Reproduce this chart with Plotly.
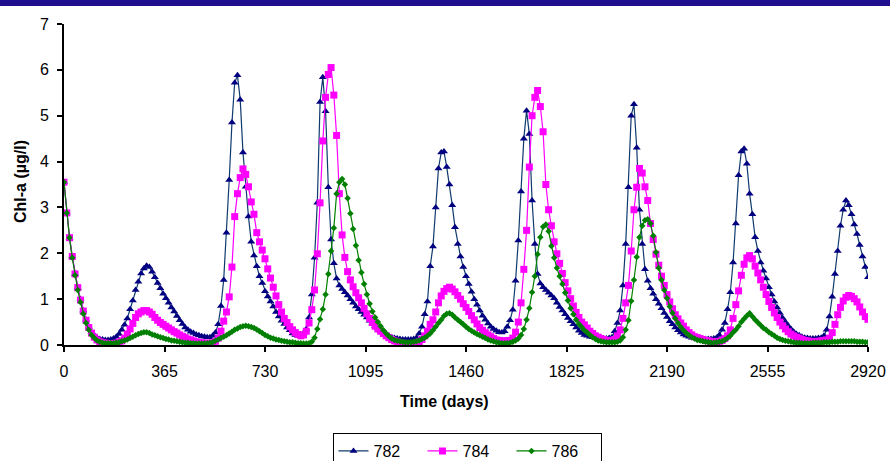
import plotly.graph_objects as go

# Time axis (days), sampled every 10 days
days = list(range(0, 2921, 10))

tick_vals = [0, 365, 730, 1095, 1460, 1825, 2190, 2555, 2920]
tick_text = ["0", "365", "730", "1095", "1460", "1825", "2190", "2555", "2920"]

series_names = ["782", "784", "786"]

chl_782 = [
    3.55, 2.88, 2.34, 1.93, 1.55, 1.25, 1.00, 0.75, 0.55, 0.40,
    0.28, 0.21, 0.16, 0.13, 0.12, 0.11, 0.11, 0.12, 0.14, 0.18,
    0.24, 0.33, 0.44, 0.58, 0.78, 0.97, 1.20, 1.38, 1.56, 1.67,
    1.73, 1.70, 1.60, 1.48, 1.35, 1.24, 1.12, 1.02, 0.92, 0.82,
    0.73, 0.63, 0.54, 0.46, 0.38, 0.33, 0.29, 0.26, 0.23, 0.21,
    0.19, 0.18, 0.17, 0.17, 0.20, 0.27, 0.45, 0.85, 1.42, 2.45,
    3.60, 4.85, 5.72, 5.88, 5.35, 4.20, 3.45, 2.80, 2.25, 1.95,
    1.72, 1.50, 1.35, 1.17, 1.06, 0.95, 0.84, 0.72, 0.62, 0.53,
    0.46, 0.38, 0.32, 0.25, 0.22, 0.20, 0.20, 0.25, 0.35, 0.60,
    1.10, 1.90, 3.10, 5.30, 5.84, 5.10, 3.44, 2.30, 1.78, 1.45,
    1.30, 1.22, 1.15, 1.08, 1.00, 0.92, 0.84, 0.78, 0.72, 0.66,
    0.60, 0.53, 0.47, 0.41, 0.36, 0.31, 0.26, 0.22, 0.19, 0.17,
    0.15, 0.14, 0.13, 0.12, 0.12, 0.12, 0.12, 0.13, 0.15, 0.25,
    0.40, 0.67, 0.95, 1.72, 2.15, 3.00, 3.85, 4.20, 4.22, 3.88,
    3.50, 3.05, 2.57, 2.20, 1.93, 1.70, 1.50, 1.33, 1.16, 1.00,
    0.88, 0.75, 0.64, 0.55, 0.47, 0.40, 0.35, 0.31, 0.28, 0.27,
    0.30, 0.40, 0.54, 0.77, 1.40, 2.28, 3.35, 4.50, 5.11, 4.60,
    3.15, 2.20, 1.55, 1.34, 1.26, 1.20, 1.14, 1.08, 1.02, 0.92,
    0.83, 0.75, 0.67, 0.59, 0.52, 0.45, 0.38, 0.31, 0.26, 0.22,
    0.20, 0.18, 0.17, 0.16, 0.15, 0.14, 0.14, 0.14, 0.15, 0.17,
    0.30, 0.48, 0.75, 1.30, 2.20, 3.44, 5.00, 5.25, 4.30, 2.95,
    2.20, 1.65, 1.40, 1.24, 1.12, 1.00, 0.90, 0.80, 0.70, 0.61,
    0.52, 0.45, 0.38, 0.32, 0.27, 0.23, 0.20, 0.18, 0.16, 0.15,
    0.14, 0.14, 0.13, 0.13, 0.13, 0.13, 0.14, 0.16, 0.22, 0.33,
    0.48, 0.78, 1.15, 1.80, 2.65, 3.70, 4.22, 4.28, 3.95, 3.30,
    2.85, 2.35, 2.05, 1.80, 1.62, 1.45, 1.26, 1.10, 0.95, 0.82,
    0.70, 0.59, 0.50, 0.42, 0.35, 0.29, 0.24, 0.21, 0.18, 0.16,
    0.15, 0.14, 0.14, 0.14, 0.15, 0.16, 0.20, 0.33, 0.62, 1.05,
    1.55, 2.05, 2.60, 2.95, 3.15, 3.05, 2.85, 2.63, 2.42, 2.18,
    1.93, 1.70, 1.48,
]

chl_784 = [
    3.55, 2.88, 2.34, 1.93, 1.55, 1.25, 0.98, 0.74, 0.54, 0.38,
    0.26, 0.17, 0.11, 0.07, 0.05, 0.04, 0.03, 0.03, 0.03, 0.04,
    0.06, 0.09, 0.15, 0.24, 0.35, 0.47, 0.60, 0.68, 0.72, 0.75,
    0.75, 0.72, 0.67, 0.60, 0.54, 0.49, 0.45, 0.41, 0.37, 0.33,
    0.29, 0.26, 0.22, 0.19, 0.16, 0.13, 0.11, 0.09, 0.07, 0.06,
    0.05, 0.04, 0.04, 0.04, 0.05, 0.08, 0.15, 0.30, 0.52, 0.72,
    1.05, 1.70, 2.80, 3.30, 3.65, 3.84, 3.72, 3.45, 3.12, 2.85,
    2.45, 2.25, 2.07, 1.88, 1.66, 1.46, 1.26, 1.07, 0.88, 0.72,
    0.58, 0.49, 0.40, 0.33, 0.27, 0.23, 0.20, 0.22, 0.30, 0.48,
    0.77, 1.20, 1.99, 3.10, 4.45, 5.40, 5.90, 6.05, 5.45, 4.57,
    3.30, 2.40, 1.91, 1.60, 1.42, 1.27, 1.14, 1.03, 0.92, 0.80,
    0.68, 0.58, 0.49, 0.41, 0.35, 0.30, 0.25, 0.20, 0.16, 0.12,
    0.09, 0.07, 0.05, 0.04, 0.03, 0.03, 0.03, 0.03, 0.04, 0.07,
    0.12, 0.20, 0.30, 0.45, 0.55, 0.72, 0.92, 1.07, 1.17, 1.23,
    1.26, 1.22, 1.16, 1.08, 1.00, 0.90, 0.82, 0.73, 0.64, 0.55,
    0.46, 0.38, 0.32, 0.27, 0.22, 0.18, 0.14, 0.11, 0.10, 0.09,
    0.09, 0.09, 0.10, 0.15, 0.28, 0.50, 0.92, 1.65, 2.50, 3.88,
    5.00, 5.40, 5.55, 5.20, 4.65, 3.50, 2.95, 2.60, 2.25, 1.99,
    1.78, 1.56, 1.36, 1.18, 1.01, 0.85, 0.71, 0.60, 0.50, 0.44,
    0.37, 0.30, 0.25, 0.20, 0.17, 0.14, 0.12, 0.10, 0.10, 0.10,
    0.12, 0.20, 0.33, 0.58, 0.92, 1.30, 2.05, 2.95, 3.44, 3.85,
    3.75, 3.45, 3.15, 2.65, 2.30, 1.98, 1.74, 1.50, 1.30, 1.10,
    0.94, 0.79, 0.66, 0.57, 0.48, 0.41, 0.33, 0.27, 0.22, 0.18,
    0.16, 0.14, 0.12, 0.10, 0.09, 0.08, 0.07, 0.07, 0.08, 0.10,
    0.14, 0.20, 0.33, 0.58, 0.88, 1.18, 1.52, 1.76, 1.90, 1.95,
    1.88, 1.72, 1.57, 1.42, 1.26, 1.10, 0.95, 0.82, 0.70, 0.60,
    0.50, 0.42, 0.35, 0.29, 0.24, 0.20, 0.17, 0.15, 0.12, 0.10,
    0.09, 0.08, 0.07, 0.07, 0.08, 0.09, 0.10, 0.11, 0.15, 0.27,
    0.45, 0.66, 0.82, 0.96, 1.04, 1.08, 1.06, 1.01, 0.94, 0.83,
    0.72, 0.62, 0.56,
]

chl_786 = [
    3.55, 2.88, 2.34, 1.90, 1.52, 1.20, 0.93, 0.68, 0.48, 0.33,
    0.22, 0.15, 0.10, 0.07, 0.05, 0.04, 0.04, 0.04, 0.04, 0.05,
    0.06, 0.08, 0.10, 0.12, 0.15, 0.18, 0.21, 0.24, 0.26, 0.28,
    0.28, 0.26, 0.23, 0.21, 0.19, 0.17, 0.15, 0.13, 0.12, 0.10,
    0.09, 0.08, 0.07, 0.06, 0.05, 0.05, 0.04, 0.04, 0.03, 0.03,
    0.03, 0.03, 0.04, 0.05, 0.06, 0.09, 0.12, 0.15, 0.18, 0.21,
    0.25, 0.29, 0.33, 0.36, 0.39, 0.41, 0.42, 0.41, 0.39, 0.37,
    0.34, 0.30, 0.26, 0.22, 0.19, 0.16, 0.14, 0.12, 0.11, 0.09,
    0.08, 0.07, 0.06, 0.06, 0.05, 0.04, 0.04, 0.03, 0.03, 0.04,
    0.07, 0.16, 0.35, 0.56, 0.78, 1.10, 1.55, 2.05, 2.55, 3.30,
    3.55, 3.62, 3.50, 3.20, 2.87, 2.53, 2.17, 1.85, 1.58, 1.33,
    1.10, 0.90, 0.73, 0.60, 0.50, 0.41, 0.32, 0.25, 0.19, 0.14,
    0.11, 0.09, 0.08, 0.07, 0.06, 0.06, 0.06, 0.07, 0.08, 0.10,
    0.13, 0.16, 0.20, 0.25, 0.32, 0.40, 0.48, 0.55, 0.63, 0.68,
    0.69, 0.66, 0.60, 0.55, 0.50, 0.45, 0.40, 0.35, 0.31, 0.27,
    0.24, 0.21, 0.18, 0.15, 0.12, 0.10, 0.08, 0.06, 0.05, 0.04,
    0.04, 0.04, 0.05, 0.07, 0.10, 0.14, 0.22, 0.35, 0.55, 0.80,
    1.15, 1.50, 1.98, 2.35, 2.58, 2.63, 2.48, 2.16, 1.90, 1.68,
    1.50, 1.33, 1.14, 0.97, 0.80, 0.67, 0.55, 0.46, 0.39, 0.32,
    0.27, 0.22, 0.17, 0.13, 0.10, 0.08, 0.07, 0.06, 0.06, 0.06,
    0.06, 0.07, 0.10, 0.17, 0.33, 0.54, 0.96, 1.42, 1.92, 2.35,
    2.60, 2.72, 2.74, 2.65, 2.38, 2.02, 1.68, 1.42, 1.20, 1.02,
    0.84, 0.70, 0.58, 0.48, 0.39, 0.32, 0.26, 0.21, 0.17, 0.14,
    0.11, 0.10, 0.08, 0.07, 0.06, 0.05, 0.05, 0.06, 0.07, 0.08,
    0.11, 0.15, 0.20, 0.27, 0.33, 0.41, 0.50, 0.57, 0.64, 0.69,
    0.62, 0.55, 0.49, 0.43, 0.37, 0.33, 0.28, 0.24, 0.20, 0.16,
    0.13, 0.11, 0.09, 0.08, 0.07, 0.06, 0.05, 0.05, 0.04, 0.04,
    0.04, 0.04, 0.05, 0.05, 0.05, 0.05, 0.06, 0.06, 0.06, 0.07,
    0.07, 0.07, 0.08, 0.08, 0.08, 0.08, 0.08, 0.08, 0.07, 0.07,
    0.07, 0.06, 0.06,
]

assert len(chl_782) == len(days), len(chl_782)
assert len(chl_784) == len(days), len(chl_784)
assert len(chl_786) == len(days), len(chl_786)

FONT = "Arial, Liberation Sans, sans-serif"

fig = go.Figure()
fig.add_trace(go.Scatter(
    x=days, y=chl_782, name=series_names[0], mode="lines+markers",
    line=dict(color="#0F3A6E", width=1.2),
    marker=dict(symbol="triangle-up", size=7, color="#000080"),
))
fig.add_trace(go.Scatter(
    x=days, y=chl_784, name=series_names[1], mode="lines+markers",
    line=dict(color="#FF00FF", width=1.2),
    marker=dict(symbol="square", size=7, color="#FF00FF"),
))
fig.add_trace(go.Scatter(
    x=days, y=chl_786, name=series_names[2], mode="lines+markers",
    line=dict(color="#008000", width=1.2),
    marker=dict(symbol="diamond", size=5, color="#008000"),
))

W, H = 890, 461
ML, MR, MT, MB = 64, 22, 24, 116
PW = W - ML - MR
PH = H - MT - MB

fig.update_layout(
    width=W, height=H,
    margin=dict(l=ML, r=MR, t=MT, b=MB, pad=0, autoexpand=False),
    paper_bgcolor="white", plot_bgcolor="white",
    font=dict(family=FONT, size=16, color="black"),
    showlegend=True,
    legend=dict(
        orientation="h", xref="container", x=467 / W, xanchor="center",
        yref="container", y=(H - 433) / H, yanchor="top",
        bordercolor="black", borderwidth=1,
        font=dict(family=FONT, size=16, color="black"),
        entrywidth=44, entrywidthmode="pixels", tracegroupgap=0,
    ),
    xaxis=dict(
        range=[0, 2920], tickmode="array", tickvals=tick_vals, ticktext=tick_text,
        showline=True, linecolor="black", linewidth=2,
        ticks="outside", ticklen=5, tickwidth=1.5, tickcolor="black",
        showgrid=False, zeroline=False, automargin=False,
        ticklabelstandoff=6,
        tickfont=dict(family=FONT, size=16, color="black"),
    ),
    yaxis=dict(
        range=[0, 7], dtick=1, tick0=0,
        showline=True, linecolor="black", linewidth=2,
        ticks="outside", ticklen=5, tickwidth=1.5, tickcolor="black",
        showgrid=False, zeroline=False, automargin=False,
        ticklabelstandoff=5,
        tickfont=dict(family=FONT, size=16, color="black"),
    ),
    annotations=[
        dict(text="<b>Time (days)</b>", xref="paper", yref="paper",
             x=(444 - ML) / PW, y=-(401 - (H - MB)) / PH,
             xanchor="center", yanchor="middle", showarrow=False,
             font=dict(family=FONT, size=16, color="black")),
        dict(text="<b>Chl-a (µg/l)</b>", xref="paper", yref="paper",
             x=-(ML - 20) / PW, y=(H - MB - 182) / PH,
             xanchor="center", yanchor="middle", textangle=-90, showarrow=False,
             font=dict(family=FONT, size=16, color="black")),
    ],
    shapes=[
        dict(type="rect", xref="paper", yref="paper",
             x0=-ML / PW, x1=1 + MR / PW,
             y0=1 + (MT - 6) / PH, y1=1 + MT / PH,
             fillcolor="#1F0F8F", line=dict(width=0), layer="above"),
    ],
)

fig.write_html(
    "out.html",
    config={"displayModeBar": False},
    post_script="document.body.style.margin='0px';document.body.style.padding='0px';",
)
